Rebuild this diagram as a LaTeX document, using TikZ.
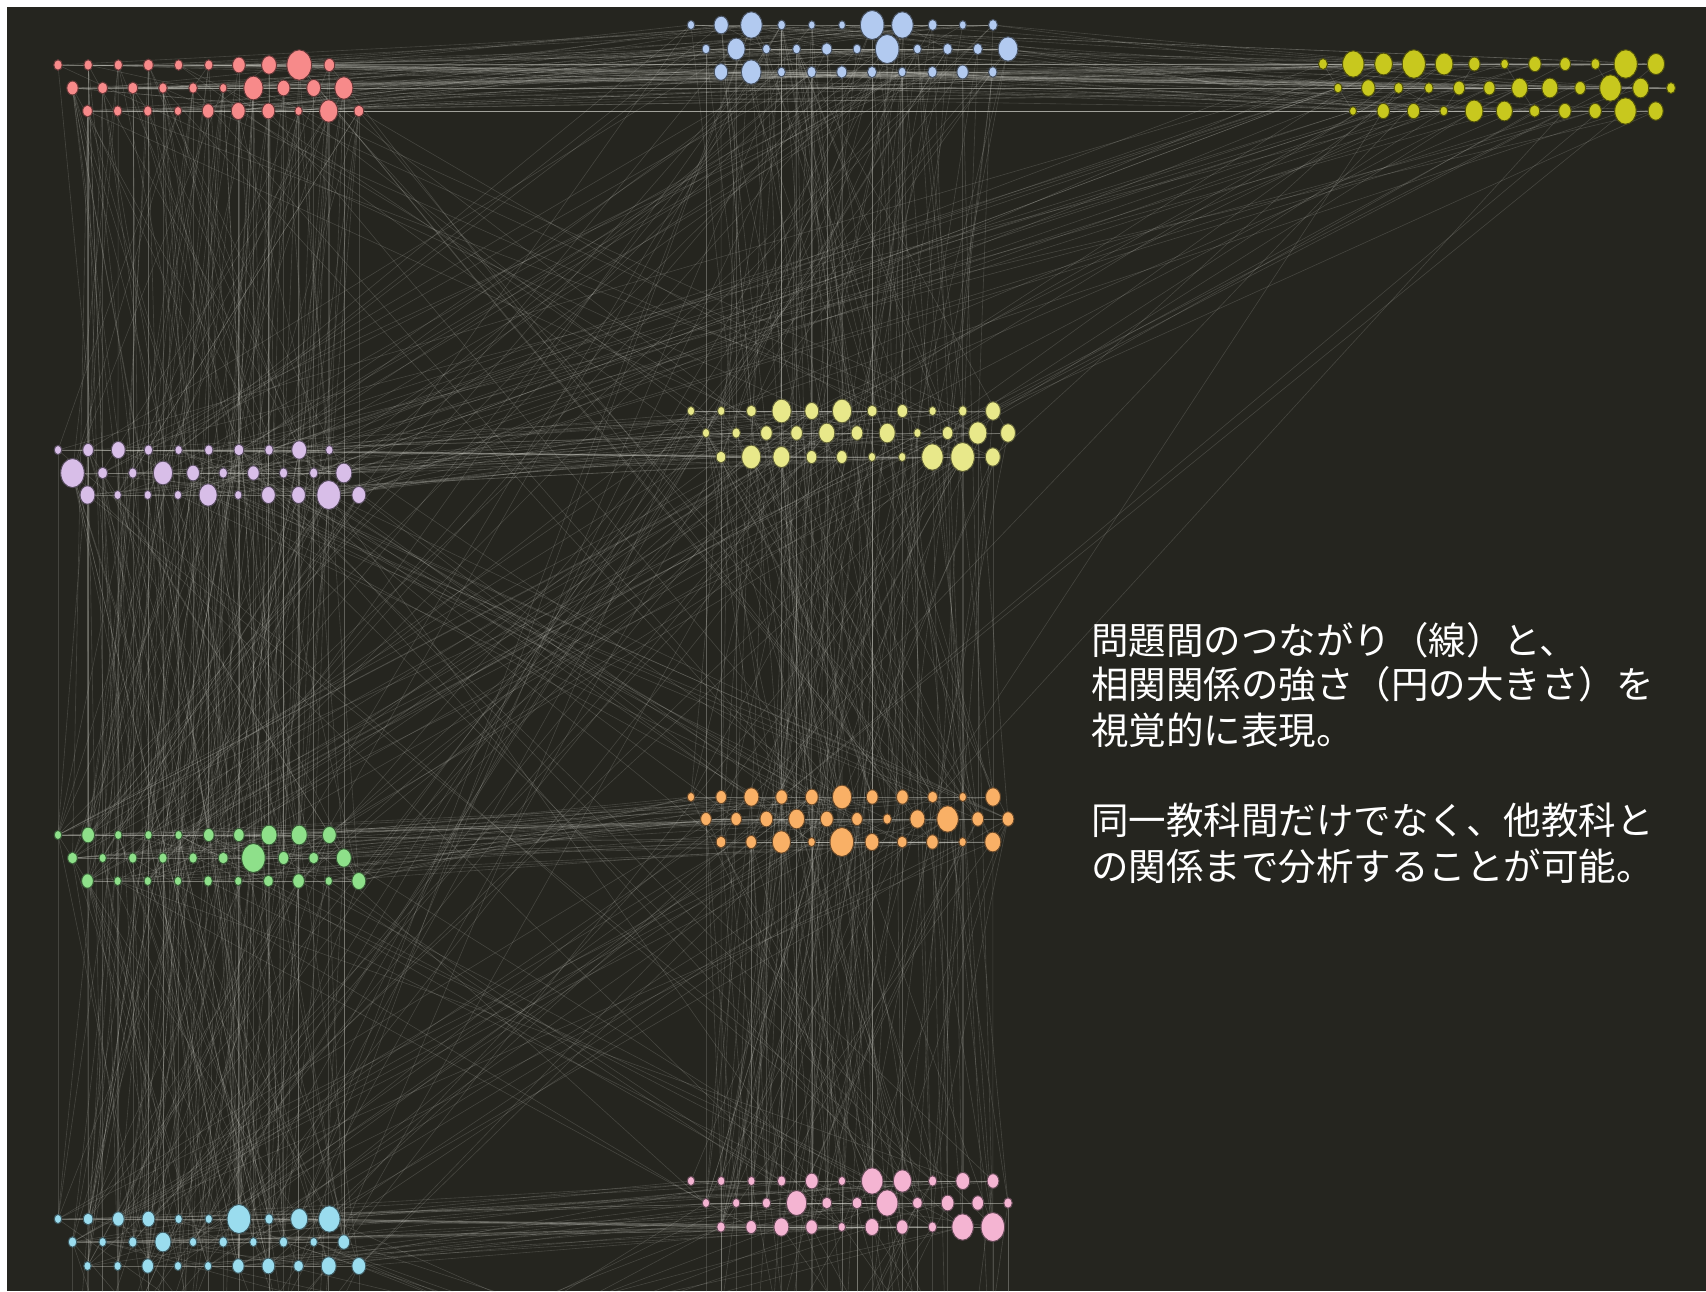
\documentclass[tikz,border=0pt]{standalone}
\usepackage{fontspec}
\newfontfamily\jp{Noto Sans CJK JP}
\usetikzlibrary{shapes.geometric}
\pgfdeclarelayer{back}
\pgfsetlayers{back,main}
\definecolor{bgc}{HTML}{25251F}
\definecolor{edgec}{HTML}{DADAD2}
\definecolor{cA}{HTML}{F78A8A}
\definecolor{cB}{HTML}{B2CAF0}
\definecolor{cC}{HTML}{C8C81E}
\definecolor{cD}{HTML}{D8BEE8}
\definecolor{cE}{HTML}{E8E88A}
\definecolor{cF}{HTML}{8EE08A}
\definecolor{cG}{HTML}{F9B066}
\definecolor{cH}{HTML}{9ADCEE}
\definecolor{cI}{HTML}{F4B4D2}
\tikzset{
  dot/.style={ellipse, inner sep=0pt, outer sep=0pt, line width=1pt},
  edge/.style={draw=edgec, line width=0.6pt, draw opacity=0.18},
  rowedge/.style={draw=edgec, line width=0.8pt, draw opacity=0.35},
  txt/.style={font=\jp\fontsize{37.5}{45}\selectfont, text=white, anchor=base west, inner sep=0pt}
}
% sizes of rows: nm = rows 1-2, nl = row 3
\def\nmA{10}\def\nlA{10}\def\nmD{10}\def\nlD{10}\def\nmF{10}\def\nlF{10}\def\nmH{10}\def\nlH{10}
\def\nmB{11}\def\nlB{10}\def\nmE{11}\def\nlE{10}\def\nmG{11}\def\nlG{10}\def\nmI{11}\def\nlI{10}
\def\nmC{12}\def\nlC{11}
\newcommand\noderow[6]{%
  \foreach \rad [count=\i] in {#6}{%
    \node[dot, fill=#5, draw=#5!40!black, minimum width=2.15*\rad pt, minimum height=2.65*\rad pt]
      (#1-\i) at ({#2+#4*(\i-1)}, #3) {};
  }%
}
\newcommand\rowline[2]{%
  \foreach \i in {2,...,#2}{\pgfmathtruncatemacro\jj{\i-1}\draw[rowedge] (#1-\jj) -- (#1-\i);}%
}
\newcommand\pick[2]{%
  \pgfmathrandominteger{\pkR}{1}{3}%
  \ifnum\pkR=3 \edef\pkN{\csname nl#1\endcsname}\else\edef\pkN{\csname nm#1\endcsname}\fi
  \pgfmathrandominteger{\pkI}{1}{\pkN}%
  \edef#2{#1-\pkR-\pkI}%
}
\newcommand\links[3]{%
  \foreach \k in {1,...,#1}{\pick{#2}\sa\pick{#3}\sb
    \ifx\sa\sb\else\draw[edge] (\sa) -- (\sb);\fi}%
}
\newcommand\vlinks[3]{%
  \foreach \k in {1,...,#1}{\pgfmathrandominteger{\pkR}{1}{3}\pgfmathrandominteger{\pkI}{1}{10}%
    \draw[edge] (#2-\pkR-\pkI) -- (#3-\pkR-\pkI);}%
}
\newcommand\offlinks[3]{%
  \foreach \k in {1,...,#1}{\pick{#2}\sa\pick{#3}\sb\draw[edge] (\sa) -- (\sb |- bot);}%
}
\newcommand\offvert[2]{%
  \foreach \k in {1,...,#1}{\pick{#2}\sa\draw[edge] (\sa) -- (\sa |- bot);}%
}
\begin{document}
\begin{tikzpicture}[x=1pt,y=-1pt]
\useasboundingbox (0,0) rectangle (1706,1291);
\begin{pgfonlayer}{back}
  \fill[white] (0,0) rectangle (1706,1291);
  \fill[bgc] (7,7) rectangle (1706,1291);
\end{pgfonlayer}
% ---- left column clusters
\noderow{A-1}{58}{65}{30.15}{cA}{4,4,4,4.5,4,4,6,7,11.5,5}
\noderow{A-2}{72.5}{88}{30.15}{cA}{5.3,4.5,4.5,4,4,3.5,9,6,6.5,8.5}
\noderow{A-3}{87.5}{111}{30.15}{cA}{4.5,4,4,3.5,5.5,6.5,6,3.5,8.5,4.5}
\noderow{D-1}{58}{450}{30.15}{cD}{3.5,5,6.5,4,3.5,4,4.5,4,7,3.5}
\noderow{D-2}{72.5}{473}{30.15}{cD}{11,4.5,4,9,6,4,5.5,4,4,7.5}
\noderow{D-3}{87.5}{495}{30.15}{cD}{7,3.5,3.5,3.5,8.5,3.5,6.5,6.5,11,6.5}
\noderow{F-1}{58}{835}{30.15}{cF}{3.5,6,3.5,3.5,3.5,5,5,7.5,7.5,6.5}
\noderow{F-2}{72.5}{858}{30.15}{cF}{4.5,3.5,4,4,4,4.5,11,5,4.5,7}
\noderow{F-3}{87.5}{881}{30.15}{cF}{5.5,3.5,3.5,3.5,4,3.5,4.5,5.5,3.5,6.5}
\noderow{H-1}{58}{1219}{30.15}{cH}{3.5,4.5,5.5,6,3.5,3.5,11,4,8,10}
\noderow{H-2}{72.5}{1242}{30.15}{cH}{4,3.5,4,7.5,3.5,4,3.5,4,3.5,5.5}
\noderow{H-3}{87.5}{1266}{30.15}{cH}{3.5,3.5,5.5,3.5,3.5,5.5,6,4.5,7,6.5}
% ---- middle column clusters
\noderow{B-1}{691}{25}{30.2}{cB}{3.5,6.7,10,3.7,3.2,3.2,11,10,4.2,3.3,4.2}
\noderow{B-2}{706}{49}{30.2}{cB}{3.7,8.3,3.7,3.7,4.7,3.7,11,3.7,4.3,4.3,9.2}
\noderow{B-3}{721}{72}{30.2}{cB}{6.3,9.2,3.7,4.3,4.7,4.3,3.7,4.3,5.3,4}
\noderow{E-1}{691}{411}{30.2}{cE}{3.5,3.5,4.5,9,6.5,9,4.5,5,3.5,4,7}
\noderow{E-2}{706}{433}{30.2}{cE}{3.5,4,5.5,5.5,7.5,5.5,7.5,3.5,5,8.5,7}
\noderow{E-3}{721}{457}{30.2}{cE}{4.5,9,8,5,5,3.5,3.5,10,11,7}
\noderow{G-1}{691}{797}{30.2}{cG}{3.5,5,7,5.5,6,9,5.5,5.5,4.5,3.5,7}
\noderow{G-2}{706}{819}{30.2}{cG}{5,5,6,7.5,6,5,4,7,10,5.5,5.5}
\noderow{G-3}{721}{842}{30.2}{cG}{4.5,5,8.5,3.5,11,6.5,4.5,5.5,3.5,7.5}
\noderow{I-1}{691}{1181}{30.2}{cI}{3.5,3.5,3.5,4,6,3.5,10,8.5,4,6.5,5.5}
\noderow{I-2}{706}{1203}{30.2}{cI}{3.5,3.5,4,9.5,4.5,4.5,10,4.5,6,5.5,4}
\noderow{I-3}{721}{1227}{30.2}{cI}{4,5,7,5.5,3.5,6.5,5.5,4,10,11}
% ---- right cluster
\noderow{C-1}{1323}{64}{30.27}{cC}{4.2,10,8.3,10.8,8.3,5.3,3.7,5.8,5,4.2,10.8,8}
\noderow{C-2}{1338}{88}{30.27}{cC}{3.7,6.3,4.2,4,5.3,5.3,7.5,7.5,5,10,7.5,4.2}
\noderow{C-3}{1353}{111}{30.27}{cC}{3.3,5.8,5.8,3.7,8.3,7.5,4.7,5.8,5.8,10,7}
\coordinate (bot) at (0,1420);
% ---- connectors
\begin{pgfonlayer}{back}
\begin{scope}
\clip (7,7) rectangle (1706,1291);
\pgfmathsetseed{4242}
\foreach \cl in {A,D,F,H}{\rowline{\cl-1}{10}\rowline{\cl-2}{10}\rowline{\cl-3}{10}}
\foreach \cl in {B,E,G,I}{\rowline{\cl-1}{11}\rowline{\cl-2}{11}\rowline{\cl-3}{10}}
\rowline{C-1}{12}\rowline{C-2}{12}\rowline{C-3}{11}
\foreach \cl in {A,B,C,D,E,F,G,H,I}{\links{14}{\cl}{\cl}}
% left column
\links{45}{A}{D}\links{35}{A}{F}\links{30}{A}{H}
\links{45}{D}{F}\links{35}{D}{H}\links{45}{F}{H}
\vlinks{10}{A}{D}\vlinks{10}{D}{F}\vlinks{10}{F}{H}\vlinks{12}{A}{H}
% middle column
\links{35}{B}{E}\links{25}{B}{G}\links{20}{B}{I}
\links{40}{E}{G}\links{30}{E}{I}\links{45}{G}{I}
\vlinks{8}{B}{E}\vlinks{8}{E}{G}\vlinks{8}{G}{I}\vlinks{10}{B}{I}
% horizontal bands
\links{45}{A}{B}\links{45}{A}{C}\links{35}{B}{C}
\links{40}{D}{E}\links{40}{F}{G}\links{40}{H}{I}
% cross diagonals
\links{12}{A}{E}\links{8}{A}{G}\links{20}{B}{D}\links{15}{B}{F}\links{8}{B}{H}
\links{20}{D}{G}\links{8}{D}{I}\links{25}{E}{F}\links{15}{E}{H}
\links{25}{G}{H}\links{12}{F}{I}
\links{25}{C}{D}\links{12}{C}{E}\links{5}{C}{F}\links{5}{C}{G}
% towards nodes below the picture
\offvert{25}{H}\offvert{25}{I}
\offlinks{20}{H}{H}\offlinks{15}{F}{H}\offlinks{20}{I}{I}\offlinks{15}{G}{I}
\offlinks{10}{H}{I}\offlinks{10}{I}{H}
\end{scope}
\end{pgfonlayer}
% ---- text
\node[txt] (t1) at (1091,654) {問題間のつながり（線）と、};
\node[txt] (t2) at (1091,698) {相関関係の強さ（円の大きさ）を};
\node[txt] (t3) at (1091,744) {視覚的に表現。};
\node[txt] (t4) at (1091,834) {同一教科間だけでなく、他教科と};
\node[txt] (t5) at (1091,880) {の関係まで分析することが可能。};
\end{tikzpicture}
\end{document}
